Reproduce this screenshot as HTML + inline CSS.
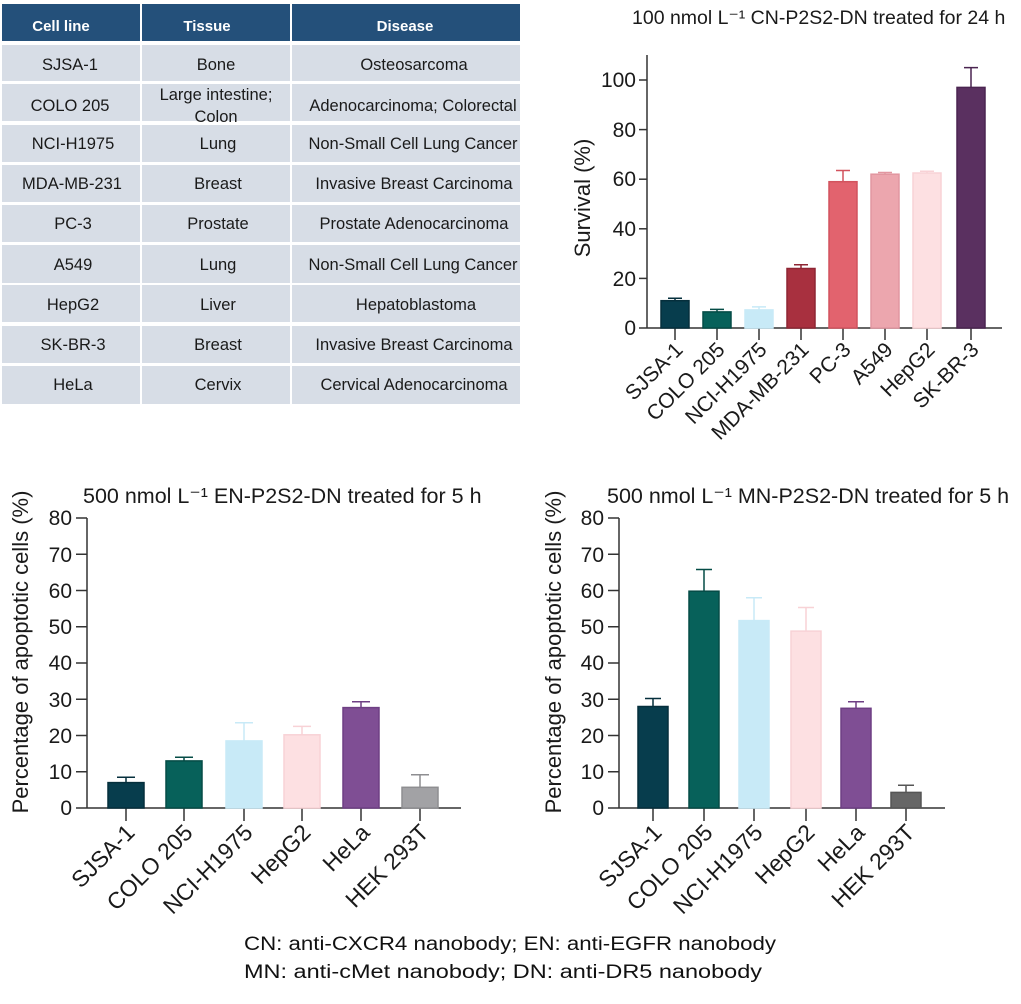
<!DOCTYPE html>
<html><head><meta charset="utf-8"><style>
html,body{margin:0;padding:0;background:#fff;}
svg{display:block;font-family:"Liberation Sans",Arial,sans-serif;}
</style></head><body>
<svg width="1021" height="1004" viewBox="0 0 1021 1004" xmlns="http://www.w3.org/2000/svg">
<!-- TABLE -->
<g>
<rect x="2" y="4" width="138" height="37" fill="#24507a"/>
<rect x="142" y="4" width="148" height="37" fill="#24507a"/>
<rect x="292" y="4" width="228" height="37" fill="#24507a"/>
<g fill="#d7dde6">
<rect x="2" y="45" width="138" height="36"/><rect x="142" y="45" width="148" height="36"/><rect x="292" y="45" width="228" height="36"/>
<rect x="2" y="84" width="138" height="37"/><rect x="142" y="84" width="148" height="37"/><rect x="292" y="84" width="228" height="37"/>
<rect x="2" y="125" width="138" height="37"/><rect x="142" y="125" width="148" height="37"/><rect x="292" y="125" width="228" height="37"/>
<rect x="2" y="165" width="138" height="37"/><rect x="142" y="165" width="148" height="37"/><rect x="292" y="165" width="228" height="37"/>
<rect x="2" y="205" width="138" height="37"/><rect x="142" y="205" width="148" height="37"/><rect x="292" y="205" width="228" height="37"/>
<rect x="2" y="245" width="138" height="38"/><rect x="142" y="245" width="148" height="38"/><rect x="292" y="245" width="228" height="38"/>
<rect x="2" y="285" width="138" height="37"/><rect x="142" y="285" width="148" height="37"/><rect x="292" y="285" width="228" height="37"/>
<rect x="2" y="326" width="138" height="37"/><rect x="142" y="326" width="148" height="37"/><rect x="292" y="326" width="228" height="37"/>
<rect x="2" y="366" width="138" height="38"/><rect x="142" y="366" width="148" height="38"/><rect x="292" y="366" width="228" height="38"/>
</g>
<g font-size="15" font-weight="bold" fill="#ffffff" text-anchor="middle">
<text x="61" y="31">Cell line</text><text x="207" y="31">Tissue</text><text x="405" y="31">Disease</text>
</g>
<g font-size="16.5" fill="#1a1a1a" text-anchor="middle">
<text x="70" y="70">SJSA-1</text><text x="216" y="70">Bone</text><text x="414" y="70">Osteosarcoma</text>
<text x="70" y="111">COLO 205</text><text x="216" y="100">Large intestine;</text><text x="216" y="122">Colon</text><text x="413" y="111">Adenocarcinoma; Colorectal</text>
<text x="73" y="149">NCI-H1975</text><text x="218" y="149">Lung</text><text x="413" y="149">Non-Small Cell Lung Cancer</text>
<text x="72" y="189">MDA-MB-231</text><text x="218" y="189">Breast</text><text x="414" y="189">Invasive Breast Carcinoma</text>
<text x="73" y="229">PC-3</text><text x="218" y="229">Prostate</text><text x="414" y="229">Prostate Adenocarcinoma</text>
<text x="73" y="270">A549</text><text x="218" y="270">Lung</text><text x="413" y="270">Non-Small Cell Lung Cancer</text>
<text x="73" y="310">HepG2</text><text x="218" y="310">Liver</text><text x="416" y="310">Hepatoblastoma</text>
<text x="73" y="350">SK-BR-3</text><text x="218" y="350">Breast</text><text x="414" y="350">Invasive Breast Carcinoma</text>
<text x="73" y="390">HeLa</text><text x="218" y="390">Cervix</text><text x="414" y="390">Cervical Adenocarcinoma</text>
</g>
</g>

<!-- TOP RIGHT CHART -->
<g>
<text x="632" y="24" font-size="19.5" fill="#1a1a1a">100 nmol L⁻¹ CN-P2S2-DN treated for 24 h</text>
<text transform="translate(590,198) rotate(-90)" font-size="22" fill="#1a1a1a" text-anchor="middle">Survival (%)</text>
<g stroke="#333" stroke-width="1.5" fill="none">
<line x1="647" y1="55" x2="647" y2="328"/>
<line x1="647" y1="328" x2="1002" y2="328"/>
<line x1="639" y1="328" x2="647" y2="328"/><line x1="639" y1="278.4" x2="647" y2="278.4"/><line x1="639" y1="228.8" x2="647" y2="228.8"/><line x1="639" y1="179.2" x2="647" y2="179.2"/><line x1="639" y1="129.6" x2="647" y2="129.6"/><line x1="639" y1="80" x2="647" y2="80"/>
<line x1="675" y1="328" x2="675" y2="340"/><line x1="717" y1="328" x2="717" y2="340"/><line x1="759" y1="328" x2="759" y2="340"/><line x1="801" y1="328" x2="801" y2="340"/><line x1="843" y1="328" x2="843" y2="340"/><line x1="885" y1="328" x2="885" y2="340"/><line x1="927" y1="328" x2="927" y2="340"/><line x1="971" y1="328" x2="971" y2="340"/>
</g>
<g font-size="21" fill="#1a1a1a" text-anchor="end">
<text x="636" y="335">0</text><text x="636" y="286">20</text><text x="636" y="236">40</text><text x="636" y="186">60</text><text x="636" y="137">80</text><text x="636" y="87">100</text>
</g>
<g stroke-width="1.5">
<rect x="661" y="300.7" width="28" height="27.3" fill="#073d4d" stroke="#052f3c"/><path d="M675 300.7V298.2M668 298.2H682" stroke="#052f3c"/>
<rect x="703" y="311.9" width="28" height="16.1" fill="#07615a" stroke="#054c46"/><path d="M717 311.9V309.4M710 309.4H724" stroke="#054c46"/>
<rect x="745" y="309.9" width="28" height="18.1" fill="#c8eaf7" stroke="#c8eaf7"/><path d="M759 309.9V306.9M752 306.9H766" stroke="#c8eaf7"/>
<rect x="787" y="268.5" width="28" height="59.5" fill="#a8303f" stroke="#8e2533"/><path d="M801 268.5V264.8M794 264.8H808" stroke="#8e2533"/>
<rect x="829" y="181.7" width="28" height="146.3" fill="#e2636e" stroke="#d2535e"/><path d="M843 181.7V170.5M836 170.5H850" stroke="#d2535e"/>
<rect x="871" y="174.2" width="28" height="153.8" fill="#eca6ae" stroke="#e296a0"/><path d="M885 174.2V172.5M878 172.5H892" stroke="#e296a0"/>
<rect x="913" y="173" width="28" height="155" fill="#fde0e2" stroke="#f8d2d6"/><path d="M927 173V171.3M920 171.3H934" stroke="#f8d2d6"/>
<rect x="957" y="87.4" width="28" height="240.6" fill="#5a3060" stroke="#4a2450"/><path d="M971 87.4V67.6M964 67.6H978" stroke="#4a2450"/>
</g>
<g font-size="21" fill="#1a1a1a" text-anchor="end">
<text transform="translate(684,351) rotate(-45)">SJSA-1</text>
<text transform="translate(726,351) rotate(-45)">COLO 205</text>
<text transform="translate(768,351) rotate(-45)">NCI-H1975</text>
<text transform="translate(810,351) rotate(-45)">MDA-MB-231</text>
<text transform="translate(852,351) rotate(-45)">PC-3</text>
<text transform="translate(894,351) rotate(-45)">A549</text>
<text transform="translate(936,351) rotate(-45)">HepG2</text>
<text transform="translate(980,351) rotate(-45)">SK-BR-3</text>
</g>
</g>

<!-- BOTTOM LEFT CHART -->
<g>
<text x="83" y="503" font-size="21.5" fill="#1a1a1a">500 nmol L⁻¹ EN-P2S2-DN treated for 5 h</text>
<text transform="translate(28,652) rotate(-90)" font-size="22" fill="#1a1a1a" text-anchor="middle">Percentage of apoptotic cells (%)</text>
<g stroke="#333" stroke-width="1.5" fill="none">
<line x1="87" y1="518" x2="87" y2="808"/><line x1="87" y1="808" x2="461" y2="808"/>
<line x1="76" y1="808" x2="87" y2="808"/><line x1="76" y1="771.75" x2="87" y2="771.75"/><line x1="76" y1="735.5" x2="87" y2="735.5"/><line x1="76" y1="699.25" x2="87" y2="699.25"/><line x1="76" y1="663" x2="87" y2="663"/><line x1="76" y1="626.75" x2="87" y2="626.75"/><line x1="76" y1="590.5" x2="87" y2="590.5"/><line x1="76" y1="554.25" x2="87" y2="554.25"/><line x1="76" y1="518" x2="87" y2="518"/>
<line x1="126" y1="808" x2="126" y2="821"/><line x1="184" y1="808" x2="184" y2="821"/><line x1="244" y1="808" x2="244" y2="821"/><line x1="302" y1="808" x2="302" y2="821"/><line x1="361" y1="808" x2="361" y2="821"/><line x1="420" y1="808" x2="420" y2="821"/>
</g>
<g font-size="21" fill="#1a1a1a" text-anchor="end">
<text x="72" y="815">0</text><text x="72" y="779">10</text><text x="72" y="743">20</text><text x="72" y="707">30</text><text x="72" y="670">40</text><text x="72" y="634">50</text><text x="72" y="598">60</text><text x="72" y="562">70</text><text x="72" y="525">80</text>
</g>
<g stroke-width="1.5">
<rect x="108" y="782.6" width="36" height="25.4" fill="#073d4d" stroke="#052f3c"/><path d="M126 782.6V777.2M117 777.2H135" stroke="#052f3c"/>
<rect x="166" y="760.9" width="36" height="47.1" fill="#07615a" stroke="#054c46"/><path d="M184 760.9V757.3M175 757.3H193" stroke="#054c46"/>
<rect x="226" y="740.9" width="36" height="67.1" fill="#c8eaf7" stroke="#c8eaf7"/><path d="M244 740.9V722.8M235 722.8H253" stroke="#c8eaf7"/>
<rect x="284" y="734.8" width="36" height="73.2" fill="#fde0e2" stroke="#f8d2d6"/><path d="M302 734.8V726.4M293 726.4H311" stroke="#f8d2d6"/>
<rect x="343" y="707.6" width="36" height="100.4" fill="#7f4e94" stroke="#6e3f84"/><path d="M361 707.6V701.8M352 701.8H370" stroke="#6e3f84"/>
<rect x="402" y="787.3" width="36" height="20.7" fill="#a2a2a5" stroke="#8e8e91"/><path d="M420 787.3V774.7M411 774.7H429" stroke="#8e8e91"/>
</g>
<g font-size="23" fill="#1a1a1a" text-anchor="end">
<text transform="translate(136,834) rotate(-45)">SJSA-1</text>
<text transform="translate(194,834) rotate(-45)">COLO 205</text>
<text transform="translate(254,834) rotate(-45)">NCI-H1975</text>
<text transform="translate(312,834) rotate(-45)">HepG2</text>
<text transform="translate(371,834) rotate(-45)">HeLa</text>
<text transform="translate(430,834) rotate(-45)">HEK 293T</text>
</g>
</g>

<!-- BOTTOM RIGHT CHART -->
<g>
<text x="607" y="503" font-size="21.5" fill="#1a1a1a">500 nmol L⁻¹ MN-P2S2-DN treated for 5 h</text>
<text transform="translate(561,652) rotate(-90)" font-size="22" fill="#1a1a1a" text-anchor="middle">Percentage of apoptotic cells (%)</text>
<g stroke="#333" stroke-width="1.5" fill="none">
<line x1="619" y1="518" x2="619" y2="808"/><line x1="619" y1="808" x2="945" y2="808"/>
<line x1="608" y1="808" x2="619" y2="808"/><line x1="608" y1="771.75" x2="619" y2="771.75"/><line x1="608" y1="735.5" x2="619" y2="735.5"/><line x1="608" y1="699.25" x2="619" y2="699.25"/><line x1="608" y1="663" x2="619" y2="663"/><line x1="608" y1="626.75" x2="619" y2="626.75"/><line x1="608" y1="590.5" x2="619" y2="590.5"/><line x1="608" y1="554.25" x2="619" y2="554.25"/><line x1="608" y1="518" x2="619" y2="518"/>
<line x1="653" y1="808" x2="653" y2="821"/><line x1="704" y1="808" x2="704" y2="821"/><line x1="754" y1="808" x2="754" y2="821"/><line x1="806" y1="808" x2="806" y2="821"/><line x1="856" y1="808" x2="856" y2="821"/><line x1="906" y1="808" x2="906" y2="821"/>
</g>
<g font-size="21" fill="#1a1a1a" text-anchor="end">
<text x="604" y="815">0</text><text x="604" y="779">10</text><text x="604" y="743">20</text><text x="604" y="707">30</text><text x="604" y="670">40</text><text x="604" y="634">50</text><text x="604" y="598">60</text><text x="604" y="562">70</text><text x="604" y="525">80</text>
</g>
<g stroke-width="1.5">
<rect x="638" y="706.5" width="30" height="101.5" fill="#073d4d" stroke="#052f3c"/><path d="M653 706.5V698.5M645 698.5H661" stroke="#052f3c"/>
<rect x="689" y="591.2" width="30" height="216.8" fill="#07615a" stroke="#054c46"/><path d="M704 591.2V569.5M696 569.5H712" stroke="#054c46"/>
<rect x="739" y="620.6" width="30" height="187.4" fill="#c8eaf7" stroke="#c8eaf7"/><path d="M754 620.6V597.8M746 597.8H762" stroke="#c8eaf7"/>
<rect x="791" y="631.1" width="30" height="176.9" fill="#fde0e2" stroke="#f8d2d6"/><path d="M806 631.1V607.5M798 607.5H814" stroke="#f8d2d6"/>
<rect x="841" y="708.3" width="30" height="99.7" fill="#7f4e94" stroke="#6e3f84"/><path d="M856 708.3V701.8M848 701.8H864" stroke="#6e3f84"/>
<rect x="891" y="792.4" width="30" height="15.6" fill="#666666" stroke="#555555"/><path d="M906 792.4V785.2M898 785.2H914" stroke="#555555"/>
</g>
<g font-size="23" fill="#1a1a1a" text-anchor="end">
<text transform="translate(663,834) rotate(-45)">SJSA-1</text>
<text transform="translate(714,834) rotate(-45)">COLO 205</text>
<text transform="translate(764,834) rotate(-45)">NCI-H1975</text>
<text transform="translate(816,834) rotate(-45)">HepG2</text>
<text transform="translate(866,834) rotate(-45)">HeLa</text>
<text transform="translate(916,834) rotate(-45)">HEK 293T</text>
</g>
</g>

<!-- FOOTER -->
<g font-size="19" fill="#111">
<text x="244" y="950" textLength="532" lengthAdjust="spacingAndGlyphs">CN: anti-CXCR4 nanobody;  EN: anti-EGFR nanobody</text>
<text x="244" y="978" textLength="518" lengthAdjust="spacingAndGlyphs">MN: anti-cMet nanobody;  DN: anti-DR5 nanobody</text>
</g>
</svg>
</body></html>
